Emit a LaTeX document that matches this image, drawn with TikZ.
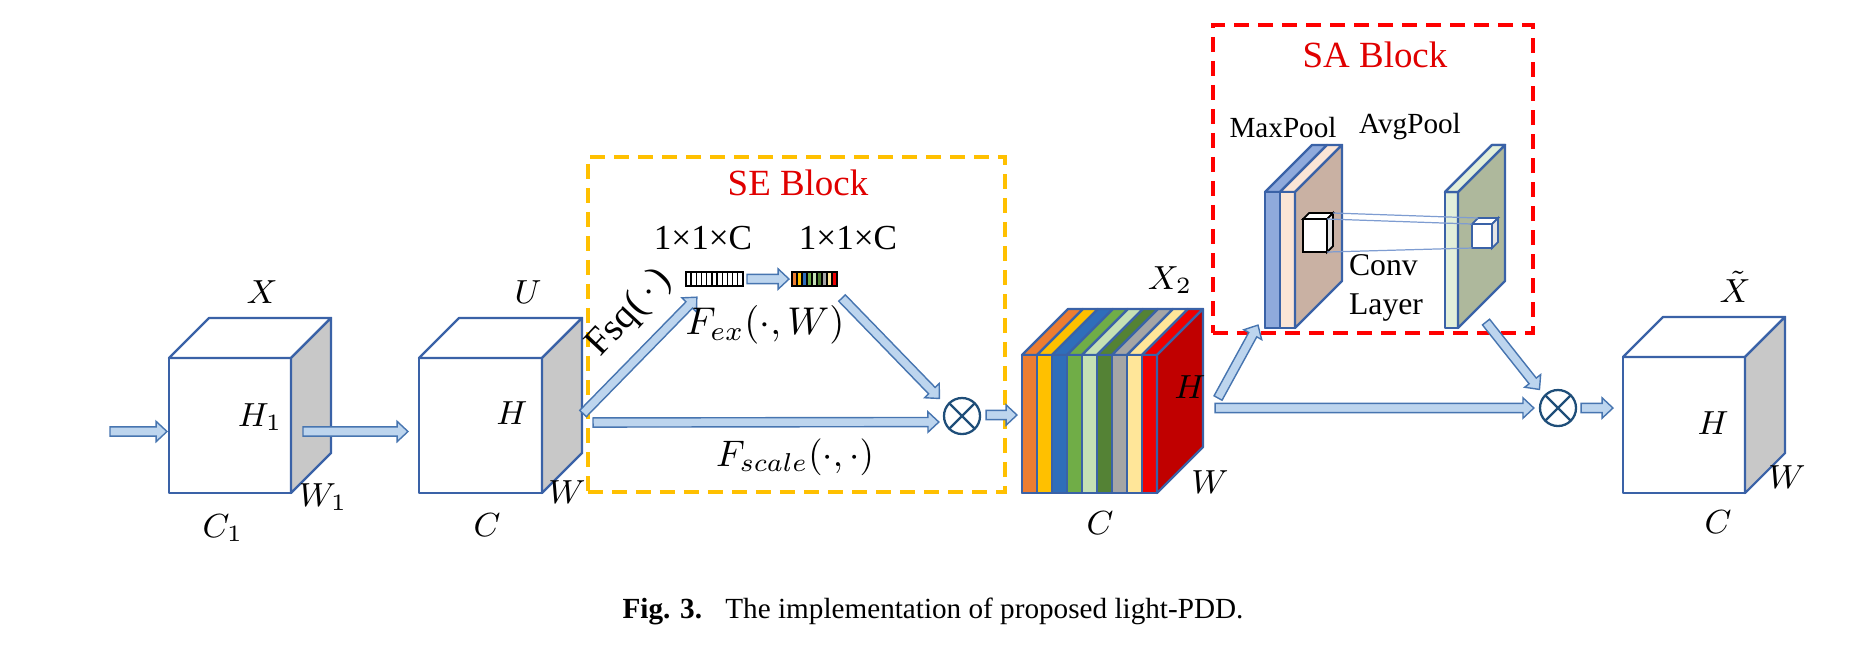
\RequirePackage{fix-cm}
\documentclass[tikz,border=0pt]{standalone}
\usepackage{fontspec}
\setmainfont{Liberation Serif}
\newfontfamily\serifface{Liberation Serif}
\usetikzlibrary{positioning,calc}

\definecolor{edgeblue}{HTML}{3A62A7}
\definecolor{arrfill}{HTML}{BDD5EE}
\definecolor{arrdraw}{HTML}{4775B0}
\definecolor{sidegray}{HTML}{C8C8C8}
\definecolor{otblue}{HTML}{1F4E79}
\definecolor{seorange}{HTML}{FFC000}
\definecolor{sared}{HTML}{FF0000}
\definecolor{titlered}{HTML}{E00000}
\definecolor{st1}{HTML}{ED7D31}
\definecolor{st2}{HTML}{FFC000}
\definecolor{st3}{HTML}{2F6EBA}
\definecolor{st4}{HTML}{70AD47}
\definecolor{st5}{HTML}{C5E0B4}
\definecolor{st6}{HTML}{548235}
\definecolor{st7}{HTML}{A5A5A5}
\definecolor{st8}{HTML}{FFE699}
\definecolor{st9}{HTML}{EE0000}
\definecolor{sidered}{HTML}{C00000}
\definecolor{poolblue}{HTML}{8FAADC}
\definecolor{poolpink}{HTML}{FBE5D6}
\definecolor{poolbrown}{HTML}{C9B1A3}
\definecolor{poolgreen}{HTML}{E2EFDA}
\definecolor{poolsage}{HTML}{AEB89C}

\tikzset{%
  cubeface/.style  = { draw = edgeblue, line width = 0.65pt, fill = white, line join = round,
                       inner sep = 0pt, outer sep = 0pt },
  slab/.style      = { cubeface, fill = #1 },
  smallcube/.style = { draw = black, line width = 0.5pt, fill = white, inner sep = 0pt, outer sep = 0pt },
  fatarrow/.style  = { draw = arrdraw, fill = arrfill, line width = 0.4pt, line join = miter },
  otimes/.style    = { circle, draw = otblue, line width = 0.65pt, minimum size = 0.36cm, inner sep = 0pt,
                       path picture = {\draw[otblue, line width = 0.65pt]
                         (path picture bounding box.north west) -- (path picture bounding box.south east)
                         (path picture bounding box.north east) -- (path picture bounding box.south west);} },
  dashbox/.style   = { draw = #1, line width = 1.1pt, dash pattern = on 0.15cm off 0.09cm,
                       inner sep = 0pt, outer sep = 0pt },
  vecbox/.style    = { draw = black, line width = 0.4pt, fill = white, inner sep = 0pt, outer sep = 0pt,
                       minimum height = 0.14cm },
  mathlbl/.style   = { font = \fontsize{9.5}{11}\selectfont, inner sep = 0pt },
  txt/.style       = { font = \serifface\fontsize{#1}{#1}\selectfont, inner sep = 0pt },
  title/.style     = { txt = 10.5, text = titlered },
  convline/.style  = { draw = poolblue!80!edgeblue, line width = 0.35pt }
}

% front face is a node, top and side faces hang on its anchors
\newcommand{\cubefaces}[4][cubeface]{%
  \draw[#1] (#2.north west) -- ++(#3,-#3) -- ([shift={(#3,-#3)}]#2.north east) -- (#2.north east) -- cycle;
  \draw[#1, fill=#4] (#2.north east) -- ++(#3,-#3) -- ([shift={(#3,-#3)}]#2.south east) -- (#2.south east) -- cycle;}

% hollow block arrow between two points
\newcommand{\blockarrow}[2]{%
  \draw[fatarrow] let \p1=#1, \p2=#2,
    \n1={atan2(\y2-\y1,\x2-\x1)}, \n2={veclen(\x2-\x1,\y2-\y1)} in
    {[shift={(\p1)}, rotate=\n1]
     (0pt,-1.3pt) -- ({\n2*1pt-3.1pt},-1.3pt) -- ({\n2*1pt-3.1pt},-2.9pt) -- ({\n2*1pt},0pt)
     -- ({\n2*1pt-3.1pt},2.9pt) -- ({\n2*1pt-3.1pt},1.3pt) -- (0pt,1.3pt) -- cycle};}

\begin{document}
\begin{tikzpicture}[x=0.01cm, y=-0.01cm]
  \useasboundingbox (0,0) rectangle (1867,653);

  % blocks
  \node[dashbox=seorange, minimum width=4.17cm, minimum height=3.35cm] (se) at (796.5,324.5) {};
  \node[dashbox=sared, minimum width=3.20cm, minimum height=3.08cm] (sa) at (1373,179) {};
  \node[title] (setitle) at (798,183) {SE Block};
  \node[title] (satitle) at (1375,55) {SA Block};

  % cubes
  \node[cubeface, minimum width=1.22cm, minimum height=1.35cm] (X) at (230,425.5) {};
  \node[cubeface, minimum width=1.23cm, minimum height=1.35cm] (U) at (480.5,425.5) {};
  \node[cubeface, minimum width=1.35cm, minimum height=1.38cm] (X2) at (1089.5,424) {};
  \node[cubeface, minimum width=1.22cm, minimum height=1.36cm] (Xt) at (1684,425) {};
  \cubefaces{X}{40}{sidegray}
  \cubefaces{U}{40}{sidegray}
  \cubefaces{Xt}{40}{sidegray}
  \foreach \c [count=\i from 0] in {st1,st2,st3,st4,st5,st6,st7,st8,st9} {
    \draw[slab=\c] ([shift={(\i*15,0)}]X2.north west) -- ++(46,-46) -- ++(15,0) -- ++(-46,46) -- cycle;
    \draw[slab=\c] ([shift={(\i*15,0)}]X2.north west) rectangle ++(15,138);
  }
  \draw[slab=sidered] (X2.north east) -- ++(46,-46) -- ++(0,138) -- (X2.south east) -- cycle;

  % squeeze / excitation vectors
  \node[vecbox, minimum width=0.57cm] (sqv) at (714.5,279) {};
  \foreach \i in {1,...,10}
    \draw[line width=0.4pt] ([shift={(\i*5.18,0)}]sqv.south west) -- ++(0,-14);
  \node[vecbox, minimum width=0.45cm] (exv) at (814.5,279) {};
  \foreach \c [count=\i from 0] in {st1,st2,st3,st4,st5,st6,st7,st8,st9}
    \draw[line width=0.3pt, fill=\c] ([shift={(\i*5,0)}]exv.south west) rectangle ++(5,-14);

  % pooling slabs
  \node[cubeface, minimum width=0.30cm, minimum height=1.36cm] (maxp) at (1280,260) {};
  \draw[slab=poolblue] (maxp.north west) -- ++(47,-47) -- ++(15,0) -- ++(-47,47) -- cycle;
  \draw[slab=poolpink] ([shift={(15,0)}]maxp.north west) -- ++(47,-47) -- ++(15,0) -- ++(-47,47) -- cycle;
  \draw[slab=poolblue] (maxp.north west) rectangle ++(15,136);
  \draw[slab=poolpink] ([shift={(15,0)}]maxp.north west) rectangle ++(15,136);
  \draw[slab=poolbrown] (maxp.north east) -- ++(47,-47) -- ++(0,136) -- (maxp.south east) -- cycle;
  \node[slab=poolgreen, minimum width=0.13cm, minimum height=1.36cm] (avgp) at (1451.5,260) {};
  \cubefaces{avgp}{47}{poolsage}
  \draw[slab=poolgreen] (avgp.north west) -- ++(47,-47) -- ++(13,0) -- (avgp.north east) -- cycle;

  \node[smallcube, minimum width=0.24cm, minimum height=0.33cm] (mc) at (1315,235.5) {};
  \cubefaces[smallcube]{mc}{6}{gray!20}
  \node[smallcube, draw=edgeblue, minimum width=0.20cm, minimum height=0.24cm] (ac) at (1482,236) {};
  \cubefaces[smallcube, draw=edgeblue]{ac}{6}{gray!20}
  \draw[convline] ([shift={(6,-6)}]mc.north east) -- ([shift={(6,-6)}]ac.north west);
  \draw[convline] (mc.north east) -- (ac.north west);
  \draw[convline] (mc.south east) -- (ac.south west);

  % multiplications
  \node[otimes] (ot1) at (962,416) {};
  \node[otimes] (ot2) at (1558,408) {};

  % arrows
  \coordinate (in) at (110,431.5);
  \blockarrow{(in)}{([shift={(-2,6)}]X.west)}
  \blockarrow{([shift={(12,6)}]X.east)}{([shift={(-11,6)}]U.west)}
  \blockarrow{([shift={(41,-12)}]U.east)}{([shift={(11,11)}]sqv.south west)}
  \blockarrow{([shift={(4,0)}]sqv.east)}{([shift={(-3,0)}]exv.west)}
  \blockarrow{([shift={(5,12)}]exv.south east)}{([shift={(-9,-4)}]ot1.135)}
  \blockarrow{([shift={(51,-3)}]U.east)}{([shift={(-4,6)}]ot1.west)}
  \blockarrow{([shift={(5,-1)}]ot1.east)}{([shift={(-5,-9)}]X2.west)}
  \blockarrow{([shift={(61,-26)}]X2.east)}{([shift={(-7,-3)}]maxp.south west)}
  \blockarrow{([shift={(58,-16)}]X2.east)}{([shift={(-5,0)}]ot2.west)}
  \blockarrow{([shift={(28,-6)}]avgp.south east)}{([shift={(-5,-5)}]ot2.135)}
  \blockarrow{([shift={(4,0)}]ot2.east)}{([shift={(-10,-17)}]Xt.west)}

  % labels
  \node[mathlbl] (lX)  at (262,292)  {$X$};
  \node[mathlbl] (lH1) at (260,417)  {$H_1$};
  \node[mathlbl] (lW1) at (323,497)  {$W_1$};
  \node[mathlbl] (lC1) at (223,528)  {$C_1$};
  \node[mathlbl] (lU)  at (528,292)  {$U$};
  \node[mathlbl] (lH)  at (512,413)  {$H$};
  \node[mathlbl] (lW)  at (567,492)  {$W$};
  \node[mathlbl] (lC)  at (487,525)  {$C$};
  \node[mathlbl] (lX2) at (1170,280) {$X_2$};
  \node[mathlbl] (lH2) at (1190,387) {$H$};
  \node[mathlbl] (lW2) at (1210,482) {$W$};
  \node[mathlbl] (lC2) at (1100,523) {$C$};
  \node[mathlbl] (lXt) at (1735,287) {$\tilde{X}$};
  \node[mathlbl] (lHt) at (1713,423) {$H$};
  \node[mathlbl] (lWt) at (1787,477) {$W$};
  \node[mathlbl] (lCt) at (1718,522) {$C$};

  \node[txt=10] (dim1) at (703,238) {1×1×C};
  \node[txt=10] (dim2) at (848,238) {1×1×C};
  \node[txt=11, rotate=47] (fsq) at (630,313) {Fsq(\,$\cdot$\,)};
  \node[txt=11] (fex) at (765,325) {$F_{ex}(\cdot,W)$};
  \node[txt=10.5] (fscale) at (795,457) {$F_{scale}(\cdot,\cdot)$};
  \node[txt=8.3] (lmax) at (1283,127) {MaxPool};
  \node[txt=8.3] (lavg) at (1410,127) {AvgPool};
  \node[align=left, font=\serifface\fontsize{9}{11.1}\selectfont, inner sep=0pt] (lconv) at (1386,288) {Conv\\Layer};

  % caption
  \node[txt=8.3] (cap) at (933,611) {\textbf{Fig. 3.}\hspace{0.8em}The implementation of proposed light-PDD.};
\end{tikzpicture}
\end{document}
